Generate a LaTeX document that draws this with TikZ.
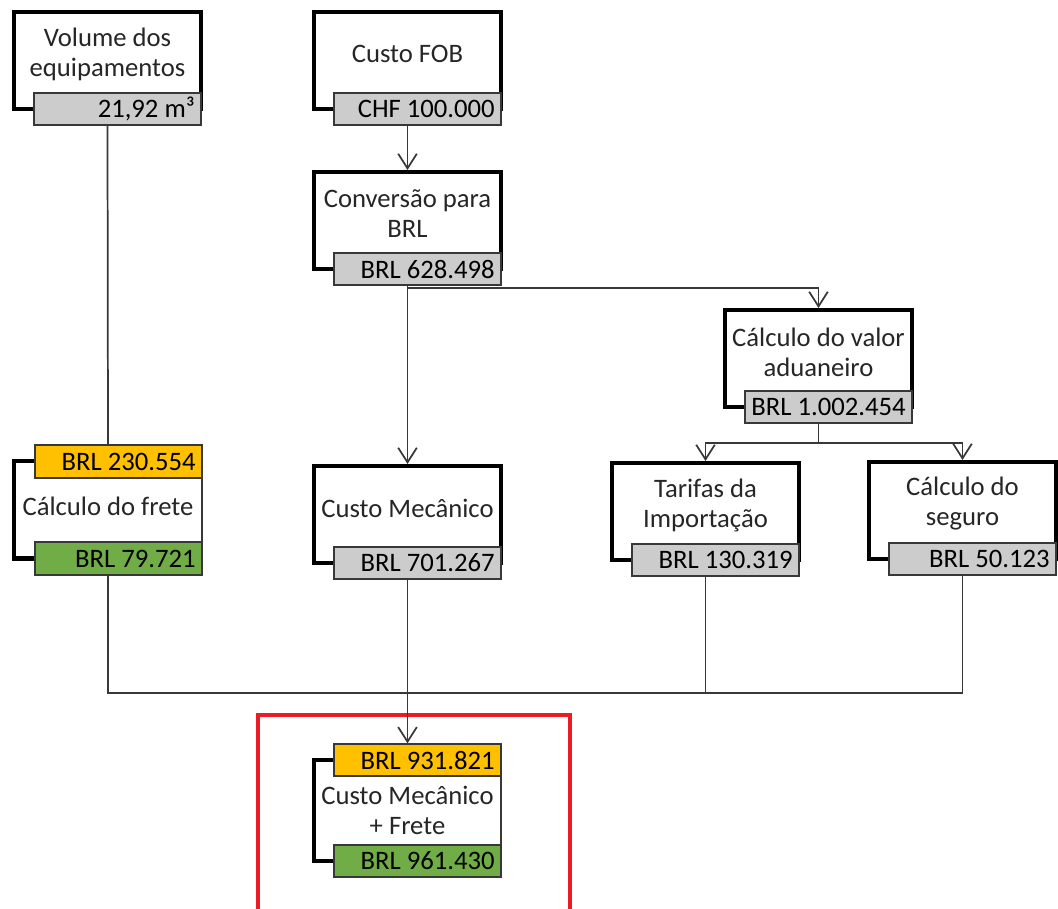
\documentclass[tikz,border=0pt]{standalone}
\usepackage{fontspec}
\setmainfont{Carlito}
\usetikzlibrary{arrows.meta,fit}

\definecolor{tagGray}{RGB}{204,204,204}
\definecolor{tagOrange}{RGB}{255,192,0}
\definecolor{tagGreen}{RGB}{112,173,71}
\definecolor{lineGray}{RGB}{56,56,56}
\definecolor{markRed}{RGB}{237,28,36}

\tikzset{
  procframe/.style={draw=black, line width=3pt, fill=white, inner sep=0pt, line join=miter},
  thinframe/.style={draw=lineGray, line width=1pt, fill=white, inner sep=0pt},
  thickedge/.style={draw=black, line width=3pt, line join=miter},
  valuetag/.style={draw=lineGray, line width=1pt, inner sep=0pt},
  valuetext/.style={anchor=east, inner xsep=5pt, inner ysep=0pt, text=black,
    font=\fontsize{20}{24}\selectfont},
  boxtext/.style={align=center, text=black!85, inner sep=0pt,
    font=\fontsize{20}{22.5}\selectfont},
  conn/.style={draw=lineGray, line width=1.3pt},
  flow/.style={conn, -{Straight Barb[length=11pt,width=14pt]}},
  highlight/.style={draw=markRed, line width=3pt, inner sep=0pt},
}

% process box: name, left, top, caption, tag colour, tag value
\newcommand\procbox[6]{%
  \node[procframe, fit={(#2,#3) (#2+187,#3+97)}] (#1) {};
  \node[boxtext] (#1-txt) at (#2+93.5,#3+42) {#4};
  \node[valuetag, fill=#5, fit={(#2+20,#3+81) (#2+187,#3+113)}] (#1-tag) {};
  \node[valuetext] (#1-val) at (#1-tag.east) {#6};
}

\begin{document}
\begin{tikzpicture}[x=0.75pt, y=-0.75pt]
  \useasboundingbox (0,0) rectangle (1058,909);

  % highlighted result area
  \node[highlight, fit={(258,715) (570,940)}] (focus) {};

  \procbox{vol}{14}{12}{Volume dos\\equipamentos}{tagGray}{21,92 m³}
  \procbox{fob}{314}{12}{Custo FOB}{tagGray}{CHF 100.000}
  \procbox{conv}{314}{172}{Conversão para\\BRL}{tagGray}{BRL 628.498}
  \procbox{adu}{725}{310}{Cálculo do valor\\aduaneiro}{tagGray}{BRL 1.002.454}
  \procbox{tar}{612}{463}{Tarifas da\\Importação}{tagGray}{BRL 130.319}
  \procbox{seg}{869}{462}{Cálculo do\\seguro}{tagGray}{BRL 50.123}
  \procbox{mec}{314}{466}{Custo Mecânico}{tagGray}{BRL 701.267}

  % freight box with two values
  \node[thinframe, fit={(14,461.5) (202,558.5)}] (frete) {};
  \draw[thickedge] (35,461.5) -| (14,558.5) -- (35,558.5);
  \node[boxtext] (frete-txt) at (108,506) {Cálculo do frete};
  \node[valuetag, fill=tagOrange, fit={(35,445) (202,478)}] (frete-top) {};
  \node[valuetext] (frete-topval) at (frete-top.east) {BRL 230.554};
  \node[valuetag, fill=tagGreen, fit={(35,542) (202,575)}] (frete-bot) {};
  \node[valuetext] (frete-botval) at (frete-bot.east) {BRL 79.721};

  % final total box
  \node[thinframe, fit={(314,760) (501,861)}] (fin) {};
  \draw[thickedge] (334,760) -| (314,861) -- (334,861);
  \node[boxtext] (fin-txt) at (407.5,810) {Custo Mecânico\\+ Frete};
  \node[valuetag, fill=tagOrange, fit={(334,744) (501,776)}] (fin-top) {};
  \node[valuetext] (fin-topval) at (fin-top.east) {BRL 931.821};
  \node[valuetag, fill=tagGreen, fit={(334,845) (501,877)}] (fin-bot) {};
  \node[valuetext] (fin-botval) at (fin-bot.east) {BRL 961.430};

  % connectors
  \coordinate (split) at (407.5,288);
  \coordinate (split2) at (818.5,443);
  \coordinate (bus) at (407.5,693);

  \draw[flow] (fob.south |- fob-tag.south) -- (conv.north);
  \draw[flow] (conv.south |- conv-tag.south) -- (mec.north);
  \draw[flow] (split) -| (adu.north);
  \draw[conn] (adu.south |- adu-tag.south) -- (split2);
  \draw[flow] (split2) -| (tar.north);
  \draw[flow] (split2) -| (seg.north);
  \draw[conn] (vol.south |- vol-tag.south) -- (frete.north |- frete-top.north);
  \draw[conn] (frete.south |- frete-bot.south) |- (seg.south |- bus)
              -- (seg.south |- seg-tag.south);
  \draw[conn] (tar.south |- tar-tag.south) -- (tar.south |- bus);
  \draw[flow] (mec.south |- mec-tag.south) -- (fin.north |- fin-top.north);
\end{tikzpicture}
\end{document}
